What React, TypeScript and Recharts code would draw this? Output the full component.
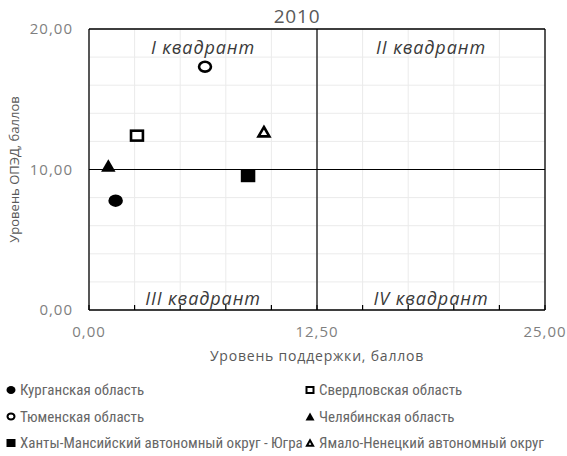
import React from 'react';
import {
  ScatterChart,
  Scatter,
  XAxis,
  YAxis,
  CartesianGrid,
  ReferenceLine,
  ReferenceArea,
} from 'recharts';

// ---------- data ----------
const chartTitle = '2010';
const xAxisTitle = 'Уровень поддержки, баллов';
const yAxisTitle = 'Уровень ОПЭД, баллов';

const regions = [
  'Курганская область',
  'Свердловская область',
  'Тюменская область',
  'Челябинская область',
  'Ханты-Мансийский автономный округ - Югра',
  'Ямало-Ненецкий автономный округ',
];
const supportScores = [1.46, 2.63, 6.36, 1.06, 8.72, 9.59];
const opedScores = [7.78, 12.41, 17.32, 10.28, 9.54, 12.69];
const markerKinds = ['circle', 'square', 'circle', 'triangle', 'square', 'triangle'];
const markerFilled = [true, false, false, true, true, false];

const xTicks = [0, 2.5, 5, 7.5, 10, 12.5, 15, 17.5, 20, 22.5, 25];
const xLabelTicks = [0, 12.5, 25];
const yTicks = [0, 10, 20];
const yGridValues = [0, 2, 4, 6, 8, 10, 12, 14, 16, 18, 20];
const xDomain = [0, 25];
const yDomain = [0, 20];
const xSplit = 12.5;
const ySplit = 10;

const quadrantNames = ['I квадрант', 'II квадрант', 'III квадрант', 'IV квадрант'];
const quadrantX = [
  [0, 12.5],
  [12.5, 25],
  [0, 12.5],
  [12.5, 25],
];
const quadrantY = [
  [10, 20],
  [10, 20],
  [0, 10],
  [0, 10],
];

// ---------- helpers ----------
const fmt = (v: number) => v.toFixed(2).replace('.', ',');

function MarkerShape(props: any) {
  const { cx, cy, kind, filled, w, h, sw } = props;
  if (cx == null || cy == null) return null;
  const stroke = '#000';
  if (kind === 'circle') {
    return filled ? (
      <ellipse cx={cx} cy={cy} rx={w / 2} ry={h / 2} fill={stroke} />
    ) : (
      <ellipse
        cx={cx}
        cy={cy}
        rx={(w - sw) / 2}
        ry={(h - sw) / 2}
        fill="#fff"
        stroke={stroke}
        strokeWidth={sw}
      />
    );
  }
  if (kind === 'square') {
    return filled ? (
      <rect x={cx - w / 2} y={cy - h / 2} width={w} height={h} fill={stroke} />
    ) : (
      <rect
        x={cx - (w - sw) / 2}
        y={cy - (h - sw) / 2}
        width={w - sw}
        height={h - sw}
        fill="#fff"
        stroke={stroke}
        strokeWidth={sw}
      />
    );
  }
  // triangle
  if (filled) {
    const pts = `${cx},${cy - h / 2} ${cx + w / 2},${cy + h / 2} ${cx - w / 2},${cy + h / 2}`;
    return <polygon points={pts} fill={stroke} />;
  }
  const iw = w - sw * 1.4;
  const ih = h - sw * 1.2;
  const pts = `${cx},${cy - ih / 2} ${cx + iw / 2},${cy + ih / 2} ${cx - iw / 2},${cy + ih / 2}`;
  return <polygon points={pts} fill="#fff" stroke={stroke} strokeWidth={sw} strokeLinejoin="miter" />;
}

const quadrantLabel = (name: string, top: boolean) => (props: any) => {
  const vb = props.viewBox || {};
  const x = vb.x + vb.width / 2;
  const y = top ? vb.y + 25 : vb.y + vb.height - 5;
  return (
    <text
      x={x}
      y={y}
      textAnchor="middle"
      fill="#3a3a3a"
      fontSize={18}
      fontStyle="italic"
      fontFamily="'Open Sans', sans-serif"
      letterSpacing={0.9}
    >
      {name}
    </text>
  );
};

const FONT = "'Open Sans', 'Liberation Sans', sans-serif";
const LEGEND_FONT = "'Liberation Sans Narrow', 'Roboto Condensed', 'Liberation Sans', sans-serif";

export default function App() {
  return (
    <div
      style={{
        position: 'absolute',
        left: 0,
        top: 0,
        width: 567,
        height: 456,
        background: '#fff',
        fontFamily: FONT,
      }}
    >
      <div
        style={{
          position: 'absolute',
          left: 247,
          top: 4,
          width: 100,
          textAlign: 'center',
          fontSize: 19,
          lineHeight: '24px',
          color: '#595959',
          fontFamily: FONT,
          letterSpacing: 0.8,
        }}
      >
        {chartTitle}
      </div>
      <ScatterChart
        width={567}
        height={456}
        margin={{ top: 29, right: 22, bottom: 106, left: 0 }}
      >
        <CartesianGrid
          stroke="#ebebeb"
          strokeWidth={1}
          horizontalValues={yGridValues}
          verticalValues={xTicks}
        />
        <XAxis
          type="number"
          dataKey="x"
          domain={xDomain}
          ticks={xTicks}
          interval={0}
          height={40}
          tickFormatter={(v: number) => (xLabelTicks.includes(v) ? fmt(v) : '')}
          tick={{ fill: '#7f7f7f', fontSize: 15, fontFamily: FONT, letterSpacing: 1 }}
          tickSize={-5}
          tickMargin={21}
          tickLine={{ stroke: '#000', strokeWidth: 1.2 }}
          axisLine={{ stroke: '#000', strokeWidth: 1.3 }}
          allowDataOverflow
          label={{
            value: xAxisTitle,
            position: 'bottom',
            offset: 1,
            fill: '#595959',
            fontSize: 14,
            fontFamily: FONT,
            letterSpacing: 0.8,
          }}
        />
        <YAxis
          type="number"
          dataKey="y"
          domain={yDomain}
          ticks={yTicks}
          interval={0}
          width={89}
          tickFormatter={fmt}
          tick={{ fill: '#7f7f7f', fontSize: 15, fontFamily: FONT, letterSpacing: 1 }}
          tickSize={0}
          tickMargin={16}
          tickLine={false}
          axisLine={{ stroke: '#000', strokeWidth: 1.3 }}
          allowDataOverflow
          label={{
            value: yAxisTitle,
            angle: -90,
            position: 'insideLeft',
            offset: 14,
            fill: '#595959',
            fontSize: 13,
            fontFamily: FONT,
            style: { textAnchor: 'middle' },
          }}
        />
        <ReferenceLine y={yDomain[1]} stroke="#000" strokeWidth={1.3} />
        <ReferenceLine x={xDomain[1]} stroke="#000" strokeWidth={1.3} />
        <ReferenceLine x={xSplit} stroke="#000" strokeWidth={1.2} />
        <ReferenceLine y={ySplit} stroke="#000" strokeWidth={1.2} />
        {quadrantNames.map((name, i) => (
          <ReferenceArea
            key={name}
            x1={quadrantX[i][0]}
            x2={quadrantX[i][1]}
            y1={quadrantY[i][0]}
            y2={quadrantY[i][1]}
            fill="none"
            fillOpacity={0}
            stroke="none"
            label={quadrantLabel(name, i < 2)}
          />
        ))}
        {regions.map((name, i) => (
          <Scatter
            key={name}
            name={name}
            data={[{ x: supportScores[i], y: opedScores[i] }]}
            isAnimationActive={false}
            shape={(p: any) => (
              <MarkerShape
                cx={p.cx}
                cy={p.cy}
                kind={markerKinds[i]}
                filled={markerFilled[i]}
                w={14.5}
                h={12.5}
                sw={2.6}
              />
            )}
          />
        ))}
      </ScatterChart>
      <svg
        width={567}
        height={80}
        style={{ position: 'absolute', left: 0, top: 376 }}
      >
        {regions.map((name, i) => {
          const col = i % 2;
          const row = Math.floor(i / 2);
          const mx = col === 0 ? 11 : 310;
          const my = 14 + row * 26.5;
          return (
            <g key={name}>
              <MarkerShape
                cx={mx}
                cy={my}
                kind={markerKinds[i]}
                filled={markerFilled[i]}
                w={9}
                h={8}
                sw={2}
              />
              <text
                x={mx + 9}
                y={my}
                dominantBaseline="central"
                fill="#666666"
                fontSize={15}
                fontFamily={LEGEND_FONT}
              >
                {name}
              </text>
            </g>
          );
        })}
      </svg>
    </div>
  );
}
